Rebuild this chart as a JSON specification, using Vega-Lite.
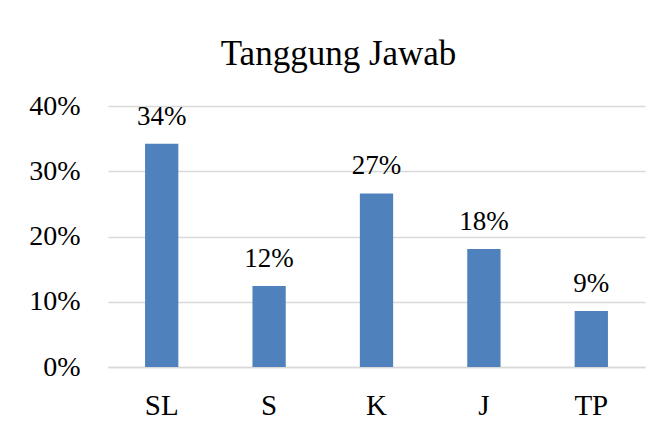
{
  "$schema": "https://vega.github.io/schema/vega-lite/v6.json",
  "width": 537,
  "height": 261,
  "autosize": "none",
  "padding": {"left": 108, "top": 106, "right": 11, "bottom": 58},
  "background": "white",
  "title": {
    "text": "Tanggung Jawab",
    "font": "Liberation Serif",
    "fontSize": 35,
    "fontWeight": "normal",
    "color": "#000000",
    "anchor": "middle",
    "frame": "group",
    "dx": -38,
    "offset": 20
  },
  "data": {
    "values": [
      {"kategori": "SL", "nilai": 0.342, "label": "34%"},
      {"kategori": "S", "nilai": 0.124, "label": "12%"},
      {"kategori": "K", "nilai": 0.266, "label": "27%"},
      {"kategori": "J", "nilai": 0.181, "label": "18%"},
      {"kategori": "TP", "nilai": 0.086, "label": "9%"}
    ]
  },
  "encoding": {
    "x": {
      "field": "kategori",
      "type": "nominal",
      "sort": ["SL", "S", "K", "J", "TP"],
      "scale": {"paddingInner": 0.69, "paddingOuter": 0.345},
      "axis": {
        "title": null,
        "labelAngle": 0,
        "labelFont": "Liberation Serif",
        "labelFontSize": 29,
        "labelColor": "#000000",
        "labelPadding": 24,
        "ticks": false,
        "domainColor": "#d9d9d9",
        "domainWidth": 1.5,
        "grid": false
      }
    },
    "y": {
      "field": "nilai",
      "type": "quantitative",
      "scale": {"domain": [0, 0.4]},
      "axis": {
        "title": null,
        "format": ".0%",
        "values": [0, 0.1, 0.2, 0.3, 0.4],
        "labelFont": "Liberation Serif",
        "labelFontSize": 28,
        "labelColor": "#000000",
        "labelPadding": 28,
        "ticks": false,
        "domain": false,
        "gridColor": "#d9d9d9",
        "gridWidth": 1.5
      }
    }
  },
  "layer": [
    {"mark": {"type": "bar", "color": "#4F81BD"}},
    {
      "mark": {
        "type": "text",
        "font": "Liberation Serif",
        "fontSize": 27,
        "color": "#000000",
        "baseline": "alphabetic",
        "dy": -19
      },
      "encoding": {"text": {"field": "label"}}
    }
  ],
  "config": {"view": {"stroke": null}}
}
